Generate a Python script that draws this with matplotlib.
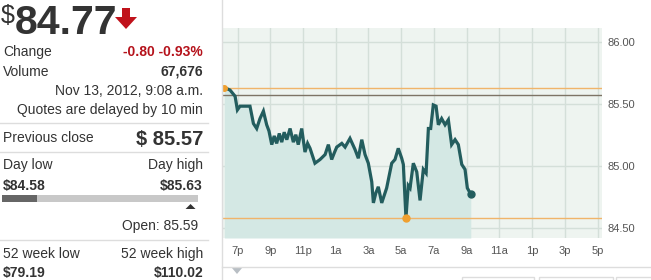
import matplotlib
matplotlib.use('Agg')
import matplotlib.pyplot as plt
from matplotlib.patches import Polygon, Rectangle

plt.rcParams['font.family'] = ['Liberation Sans', 'DejaVu Sans']

# intraday trace: clock hours from midnight Nov 12 (24+ = Nov 13)
hours = [18.19, 18.54, 18.85, 18.99, 19.15, 19.76, 19.97, 20.17, 20.37, 20.58,
         20.78, 20.92, 21.09, 21.24, 21.39, 21.55, 21.70, 21.85, 22.01, 22.21,
         22.41, 22.56, 22.71, 22.92, 23.12, 23.28, 23.43, 23.73, 24.04, 24.35,
         24.55, 24.75, 24.90, 25.06, 25.37, 25.57, 25.87, 26.18, 26.38, 26.59,
         26.79, 26.99, 27.20, 27.30, 27.45, 27.60, 27.81, 28.11, 28.42, 28.62,
         28.82, 29.03, 29.13, 29.29, 29.43, 29.54, 29.74, 29.95, 30.15, 30.35,
         30.52, 30.66, 30.80, 30.96, 31.13, 31.27, 31.47, 31.68, 31.88, 32.08,
         32.29, 32.49, 32.70, 32.90, 33.04, 33.25]
prices = [85.63, 85.61, 85.56, 85.45, 85.48, 85.48, 85.34, 85.30, 85.38, 85.44,
          85.33, 85.28, 85.17, 85.24, 85.18, 85.26, 85.19, 85.27, 85.21, 85.30,
          85.19, 85.25, 85.17, 85.30, 85.11, 85.18, 85.14, 85.02, 85.05, 85.09,
          85.17, 85.05, 85.10, 85.15, 85.18, 85.15, 85.22, 85.13, 85.06, 85.21,
          85.09, 85.02, 84.87, 84.70, 84.78, 84.83, 84.70, 84.82, 85.02, 85.05,
          85.14, 85.06, 85.01, 84.58, 84.84, 84.82, 85.02, 84.95, 84.72, 84.97,
          84.94, 85.30, 85.30, 85.49, 85.48, 85.33, 85.38, 85.33, 85.37, 85.17,
          85.21, 85.17, 85.01, 84.97, 84.82, 84.77]

tick_hours = [19, 21, 23, 25, 27, 29, 31, 33, 35, 37, 39, 41]
tick_labels = ['7p', '9p', '11p', '1a', '3a', '5a', '7a', '9a', '11a', '1p', '3p', '5p']
y_ticks = [84.50, 85.00, 85.50, 86.00]

last_price = '84.77'
change_txt = '-0.80 -0.93%'
volume_txt = '67,676'
stamp_txt = 'Nov 13, 2012, 9:08 a.m.'
prev_close = 85.57
day_low = 84.58
day_high = 85.63
open_price = 85.59
wk52_low = '$79.19'
wk52_high = '$110.02'

W, H = 651, 280
fig = plt.figure(figsize=(W / 100, H / 100), dpi=100)
fig.patch.set_facecolor('white')


def fx(x):
    return x / W


def fy(y):
    return 1 - y / H


def txt(x, y, s, **kw):
    kw.setdefault('color', '#333333')
    kw.setdefault('va', 'baseline')
    fig.text(fx(x), fy(y), s, **kw)


def hline(y, x0, x1, c='#dddddd', lw=1):
    fig.add_artist(plt.Line2D([fx(x0), fx(x1)], [fy(y), fy(y)], color=c, lw=lw))


# ---- left info panel ----
txt(0.5, 23, '$', fontsize=18)
txt(15, 34, last_price, fontsize=29.5, fontweight='bold')
arrow = [(122, 8), (130, 8), (130, 17), (137, 17), (126, 29), (115, 17), (122, 17)]
fig.add_artist(Polygon([(fx(a), fy(b)) for a, b in arrow], closed=True,
                       facecolor='#c0121b', edgecolor='none', transform=fig.transFigure))

R = 203
txt(3, 56, 'Change', fontsize=10)
txt(R, 56, change_txt, fontsize=10, fontweight='bold', color='#b5121b', ha='right')
txt(3, 76, 'Volume', fontsize=10)
txt(R, 76, volume_txt, fontsize=10, fontweight='bold', ha='right')
txt(R, 95, stamp_txt, fontsize=10, ha='right')
txt(R, 114, 'Quotes are delayed by 10 min', fontsize=10, ha='right')
hline(123, 0, 208)

txt(3, 142, 'Previous close', fontsize=10)
txt(R, 145, '$ %.2f' % prev_close, fontsize=14.5, fontweight='bold', ha='right')
hline(152, 0, 208)

txt(3, 169, 'Day low', fontsize=10)
txt(R, 169, 'Day high', fontsize=10, ha='right')
txt(3, 190, '$%.2f' % day_low, fontsize=10, fontweight='bold')
txt(R, 190, '$%.2f' % day_high, fontsize=10, fontweight='bold', ha='right')

# day range bar
bar_x0, bar_x1 = 2, 198
cur_frac = (float(last_price) - day_low) / (day_high - day_low)
open_frac = (open_price - day_low) / (day_high - day_low)
fig.add_artist(Rectangle((fx(bar_x0), fy(202)), fx(bar_x1 - bar_x0), 7 / H,
                         facecolor='#c8c8c8', edgecolor='none', transform=fig.transFigure))
fig.add_artist(Rectangle((fx(bar_x0), fy(202)), fx((bar_x1 - bar_x0) * cur_frac), 7 / H,
                         facecolor='#666666', edgecolor='none', transform=fig.transFigure))
ox = bar_x0 + (bar_x1 - bar_x0) * open_frac
tri = [(ox - 5, 209), (ox + 5, 209), (ox, 204)]
fig.add_artist(Polygon([(fx(a), fy(b)) for a, b in tri], closed=True,
                       facecolor='#333333', edgecolor='none', transform=fig.transFigure))
txt(198, 230, 'Open: %.2f' % open_price, fontsize=10, ha='right')
hline(240, 0, 208)

txt(3, 258, '52 week low', fontsize=10)
txt(R, 258, '52 week high', fontsize=10, ha='right')
txt(3, 277, wk52_low, fontsize=10, fontweight='bold')
txt(R, 277, wk52_high, fontsize=10, fontweight='bold', ha='right')

# ---- chart ----
fig.add_artist(plt.Line2D([fx(222), fx(222)], [0, fy(0)], color='#dddddd', lw=1))
hline(267, 222, 651)
ax = fig.add_axes([fx(222), fy(238), fx(601.7 - 222), (238 - 28.3) / H])
ax.set_facecolor('#eef4f0')
ax.set_xlim(18.05, 41.25)
ax.set_ylim(84.417, 86.108)
for s in ax.spines.values():
    s.set_visible(False)
for t in tick_hours:
    ax.axvline(t, color='#d4dfd9', lw=1, zorder=0)
for v in y_ticks:
    ax.axhline(v, color='#d4dfd9', lw=1, zorder=0)

ax.fill_between(hours, prices, 84.417, color='#d4e8e4', lw=0, zorder=1)
ax.axhline(day_high, color='#f0b46a', lw=1, zorder=2)
ax.axhline(prev_close, color='#7d7466', lw=1, zorder=2)
ax.axhline(day_low, color='#f0b46a', lw=1, zorder=2)
ax.plot(hours, prices, color='#235d5e', lw=2.3, zorder=3, solid_joinstyle='miter')
ax.plot(hours[0], prices[0], 'o', color='#f0a030', ms=4, zorder=4)
ax.plot(hours[53], prices[53], 'o', color='#f0a030', ms=5, zorder=4)
ax.plot(hours[-1], prices[-1], 'o', color='#235d5e', ms=5, zorder=4)

ax.set_xticks(tick_hours)
ax.set_xticklabels(tick_labels)
ax.set_yticks(y_ticks)
ax.set_yticklabels(['%.2f' % v for v in y_ticks])
ax.yaxis.tick_right()
ax.tick_params(axis='both', length=0, labelsize=8, colors='#555555')
ax.tick_params(axis='x', pad=6)
ax.tick_params(axis='y', pad=4)

down = [(232, 268), (242, 268), (237, 274)]
fig.add_artist(Polygon([(fx(a), fy(b)) for a, b in down], closed=True,
                       facecolor='#b8bec4', edgecolor='none', transform=fig.transFigure))
for x0, x1 in [(462, 534), (539, 613), (616, 660)]:
    fig.add_artist(Rectangle((fx(x0), fy(284)), fx(x1 - x0), 7 / H, facecolor='white',
                             edgecolor='#dddddd', lw=1, transform=fig.transFigure))

fig.savefig('out.png', dpi=100)
plt.close(fig)
